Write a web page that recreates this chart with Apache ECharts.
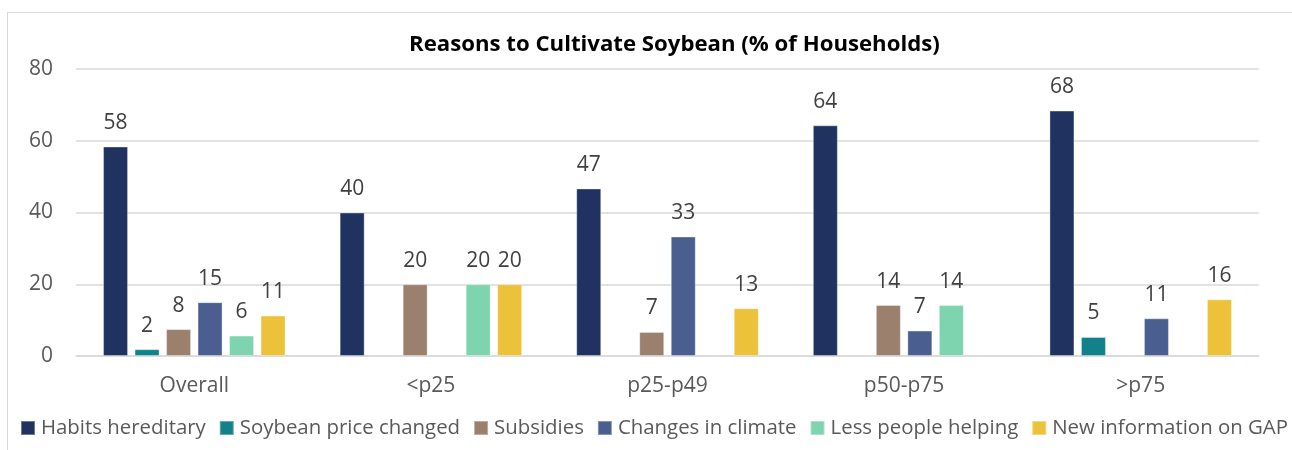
<!DOCTYPE html>
<html>
<head>
<meta charset="utf-8">
<title>Reasons to Cultivate Soybean</title>
<style>
  html, body { margin: 0; padding: 0; background: #fff; }
  #wrap { position: relative; width: 1292px; height: 450px; }
  #frame { position: absolute; left: 7px; top: 12px; width: 1300px; height: 450px;
           border: 1px solid #d9d9d9; box-sizing: border-box; }
  #main { position: absolute; left: 0; top: 0; width: 1292px; height: 450px; }
</style>
</head>
<body>
<div id="wrap">
  <div id="frame"></div>
  <div id="main"></div>
</div>
<script src="https://cdn.jsdelivr.net/npm/echarts@6/dist/echarts.min.js"></script>
<script type="text/javascript">
// categories (farm size groups)
var categories = ['Overall', '<p25', 'p25-p49', 'p50-p75', '>p75'];

// series, % of households (null = no bar)
var habitsHereditary  = [58.4, 40, 46.7, 64.3, 68.4];
var soyPriceChanged   = [1.9, null, null, null, 5.3];
var subsidies         = [7.5, 20, 6.7, 14.2, null];
var changesInClimate  = [15.0, null, 33.3, 7.1, 10.5];
var lessPeopleHelping = [5.7, 20, null, 14.2, null];
var newInfoOnGAP      = [11.3, 20, 13.3, null, 15.8];

var yTicks = [0, 20, 40, 60, 80];

var font = '"Open Sans", "Noto Sans", sans-serif';
var seriesDefs = [
  { name: 'Habits hereditary',      data: habitsHereditary,  color: '#203260' },
  { name: 'Soybean price changed',  data: soyPriceChanged,   color: '#138189' },
  { name: 'Subsidies',              data: subsidies,         color: '#9b806d' },
  { name: 'Changes in climate',     data: changesInClimate,  color: '#4b5e90' },
  { name: 'Less people helping',    data: lessPeopleHelping, color: '#7fd4b0' },
  { name: 'New information on GAP', data: newInfoOnGAP,      color: '#ecc23b' }
];

var myChart = echarts.init(document.getElementById('main'), null, { renderer: 'canvas' });

var option = {
  backgroundColor: 'transparent',
  animation: false,
  title: {
    text: 'Reasons to Cultivate Soybean (% of Households)',
    left: 404,
    top: 29,
    textStyle: { fontFamily: font, fontSize: 22.2, fontWeight: 'bold', color: '#000' }
  },
  legend: {
    bottom: 12,
    left: 20,
    width: 1272,
    padding: 0,
    itemWidth: 14,
    itemHeight: 14,
    itemGap: 13,
    icon: 'rect',
    textStyle: { fontFamily: font, fontSize: 20.4, color: '#595959', padding: [0, 0, 0, 1] },
    data: seriesDefs.map(function (s) { return s.name; })
  },
  grid: { left: 76, right: 33, top: 69, bottom: 94, containLabel: false },
  xAxis: {
    type: 'category',
    data: categories,
    axisLine: { lineStyle: { color: '#d9d9d9', width: 1.5 } },
    axisTick: { show: false },
    axisLabel: { fontFamily: font, fontSize: 21, color: '#595959', margin: 20 }
  },
  yAxis: {
    type: 'value',
    min: yTicks[0],
    max: yTicks[yTicks.length - 1],
    interval: 20,
    axisLine: { show: false },
    axisTick: { show: false },
    axisLabel: { fontFamily: font, fontSize: 21, color: '#595959', margin: 23 },
    splitLine: { lineStyle: { color: '#d9d9d9', width: 1.5 } }
  },
  series: seriesDefs.map(function (s) {
    return {
      name: s.name,
      type: 'bar',
      data: s.data,
      barWidth: 25,
      barGap: '26%',
      itemStyle: { color: s.color, borderColor: 'rgba(255,255,255,0.35)', borderWidth: 1 },
      label: {
        show: true,
        position: 'top',
        distance: 13,
        fontFamily: font,
        fontSize: 21,
        color: '#404040',
        formatter: function (p) { return p.value == null ? '' : Math.round(p.value); }
      }
    };
  })
};

myChart.setOption(option);
window.onresize = myChart.resize;
</script>
</body>
</html>
